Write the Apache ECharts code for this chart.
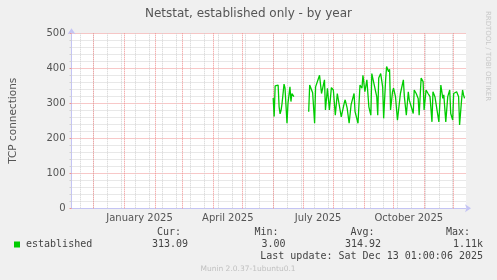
<!DOCTYPE html>
<html><head><meta charset="utf-8">
<script src="https://cdn.jsdelivr.net/npm/echarts@6/dist/echarts.min.js"></script>
<style>html,body{margin:0;padding:0;background:#f0f0f0}#c{width:497px;height:280px}</style>
</head><body><div id="c"></div>
<script>
const titleText = 'Netstat, established only - by year';
const yAxisName = 'TCP connections';
const seriesName = 'established';
const xStart = '2024-11-08T12:00:00';
const xEnd = '2025-12-13T12:00:00';
const xTickDates = ['2025-01-16T12:00:00', '2025-04-16T00:00:00', '2025-07-16T12:00:00', '2025-10-16T12:00:00'];
const xTickLabels = ['January 2025', 'April 2025', 'July 2025', 'October 2025'];
const monthStarts = ['2024-12-01','2025-01-01','2025-02-01','2025-03-01','2025-04-01','2025-05-01','2025-06-01','2025-07-01','2025-08-01','2025-09-01','2025-10-01','2025-11-01','2025-12-01'];
const minorGridStart = '2024-11-17';
const minorGridCount = 28;
const yTicks = [0, 100, 200, 300, 400, 500];

const dates = [
'2025-06-01','2025-06-02','2025-06-03','2025-06-04','2025-06-06','2025-06-07','2025-06-08','2025-06-09','2025-06-10','2025-06-12',
'2025-06-13','2025-06-15','2025-06-16','2025-06-18','2025-06-19','2025-06-20','2025-06-22','2025-06-23',
'2025-07-07','2025-07-08','2025-07-09','2025-07-11','2025-07-13','2025-07-14','2025-07-16','2025-07-18','2025-07-20','2025-07-23',
'2025-07-24','2025-07-26','2025-07-28','2025-07-30','2025-08-01','2025-08-03','2025-08-05','2025-08-07','2025-08-09','2025-08-12',
'2025-08-13','2025-08-15','2025-08-17','2025-08-19','2025-08-22','2025-08-23','2025-08-26','2025-08-28','2025-08-30','2025-08-31',
'2025-09-02','2025-09-04','2025-09-06','2025-09-08','2025-09-09','2025-09-10','2025-09-14','2025-09-15','2025-09-16','2025-09-18',
'2025-09-20','2025-09-21','2025-09-23','2025-09-24','2025-09-26','2025-09-27','2025-09-28','2025-09-30','2025-10-01','2025-10-03',
'2025-10-05','2025-10-06','2025-10-08','2025-10-11','2025-10-12','2025-10-14','2025-10-16','2025-10-17','2025-10-19','2025-10-21',
'2025-10-22','2025-10-24','2025-10-26','2025-10-27','2025-10-29','2025-10-31','2025-11-01','2025-11-03','2025-11-05','2025-11-07',
'2025-11-09','2025-11-10','2025-11-12','2025-11-14','2025-11-16','2025-11-18','2025-11-20','2025-11-21','2025-11-23','2025-11-25',
'2025-11-27','2025-11-28','2025-11-30','2025-12-01','2025-12-04','2025-12-06','2025-12-07','2025-12-09','2025-12-10','2025-12-11',
'2025-12-12'];
const values = [
315,262,350,355,352,290,270,280,300,355,
343,243,300,347,305,328,319,null,
276,352,355,330,243,347,350,380,328,367,
281,343,281,345,338,266,328,333,261,300,
310,286,243,296,328,276,243,352,343,380,
333,367,290,266,385,385,319,266,372,385,
347,257,367,405,390,397,281,333,343,319,
252,247,328,367,319,266,333,309,290,271,
338,328,314,266,372,362,281,338,328,319,
247,333,319,314,247,352,314,324,247,319,
338,271,252,328,333,319,238,309,338,324,
314];

const statHeaders = ['Cur:', 'Min:', 'Avg:', 'Max:'];
const statValues = ['313.09', '3.00', '314.92', '1.11k'];
const lastUpdate = 'Last update: Sat Dec 13 01:00:06 2025';
const footerText = 'Munin 2.0.37-1ubuntu0.1';
const sideText = 'RRDTOOL / TOBI OETIKER';

const chart = echarts.init(document.getElementById('c'), null, {renderer: 'canvas'});
const DAY = 86400000;
const toT = s => +echarts.time.parse(s.length === 10 ? s + 'T00:00:00' : s);
const minorStartT = toT(minorGridStart);
const minorLines = [];
for (let i = 0; i < minorGridCount; i++) minorLines.push(minorStartT + i * 14 * DAY);
const xTickTimes = xTickDates.map(toT);

const axisBlue = '#c4c4f4';
const redGrid = '#f09090';
const greyGrid = '#d0d0d0';
const sans = 'DejaVu Sans';
const mono = 'DejaVu Sans Mono';

const headerX = [181, 278.5, 374.5, 470];
const valueX = [188, 285.5, 381, 483];

const graphics = [];
statHeaders.forEach((t, i) => graphics.push({type:'text', x: headerX[i], y: 232.5, silent:true,
  style:{text:t, font:'10px "' + mono + '"', fill:'#444', align:'right', verticalAlign:'middle'}}));
statValues.forEach((t, i) => graphics.push({type:'text', x: valueX[i], y: 244.5, silent:true,
  style:{text:t, font:'10px "' + mono + '"', fill:'#444', align:'right', verticalAlign:'middle'}}));
graphics.push({type:'text', x: 483, y: 256.8, silent:true,
  style:{text:lastUpdate, font:'10px "' + mono + '"', fill:'#444', align:'right', verticalAlign:'middle'}});
graphics.push({type:'text', x: 248, y: 268.8, silent:true,
  style:{text:footerText, font:'7.5px "' + sans + '"', fill:'#c0c0c0', align:'center', verticalAlign:'middle'}});
graphics.push({type:'text', x: 487.5, y: 56, rotation: -Math.PI/2, silent:true,
  style:{text:sideText, font:'7px "' + sans + '"', fill:'#c8c8c8', align:'center', verticalAlign:'middle'}});

chart.setOption({
  animation: false,
  backgroundColor: '#f0f0f0',
  title: {text: titleText, left: 'center', top: 8, padding: 0,
    textStyle: {fontFamily: sans, fontSize: 12, fontWeight: 'normal', color: '#555'}},
  legend: {data: [seriesName], left: 14, top: 239.5, padding: 0, itemWidth: 6, itemHeight: 6, icon: 'rect',
    textStyle: {fontFamily: mono, fontSize: 10, color: '#444', padding: [0, 0, 0, 1]}},
  grid: {left: 66, right: 31, top: 33.3, bottom: 71.7, show: true, backgroundColor: '#ffffff', borderWidth: 0},
  xAxis: {type: 'value', min: toT(xStart), max: toT(xEnd), scale: true,
    splitLine: {show: false}, axisTick: {show: false},
    axisLine: {show: true, lineStyle: {color: axisBlue, width: 1}, symbol: ['none', 'arrow'], symbolSize: [6, 6], symbolOffset: [0, 5]},
    axisLabel: {customValues: xTickTimes, color: '#555', fontFamily: sans, fontSize: 10, margin: 5,
      formatter: function (v) { let best = 0; xTickTimes.forEach((t, i) => { if (Math.abs(t - v) < Math.abs(xTickTimes[best] - v)) best = i; }); return xTickLabels[best]; }}},
  yAxis: {type: 'value', min: yTicks[0], max: yTicks[yTicks.length - 1], interval: yTicks[1] - yTicks[0],
    name: yAxisName, nameLocation: 'middle', nameGap: 52.5, nameRotate: 90,
    nameTextStyle: {fontFamily: sans, fontSize: 10.5, color: '#555'},
    axisLine: {show: true, lineStyle: {color: axisBlue, width: 1}, symbol: ['none', 'arrow'], symbolSize: [6, 6], symbolOffset: [0, 5]},
    axisTick: {show: true, length: 2, lineStyle: {color: redGrid}},
    minorTick: {show: true, splitNumber: 5, length: 2, lineStyle: {color: greyGrid}},
    splitLine: {show: true, lineStyle: {color: redGrid, type: [1, 1], width: 1}},
    minorSplitLine: {show: true, lineStyle: {color: greyGrid, type: [1, 1], width: 1}},
    axisLabel: {color: '#555', fontFamily: sans, fontSize: 10, margin: 6, formatter: v => String(v)}},
  graphic: graphics,
  series: [
    {type: 'line', data: [], silent: true, z: 1,
      markLine: {silent: true, symbol: ['none', 'none'], label: {show: false}, animation: false,
        lineStyle: {color: greyGrid, type: [1, 1], width: 1}, emphasis: {disabled: true},
        data: minorLines.map(t => ({xAxis: t}))}},
    {type: 'line', data: [], silent: true, z: 2,
      markLine: {silent: true, symbol: ['none', 'none'], label: {show: false}, animation: false,
        lineStyle: {color: redGrid, type: [1, 1], width: 1}, emphasis: {disabled: true},
        data: monthStarts.map(d => ({xAxis: toT(d)}))}},
    {type: 'line', name: seriesName, z: 5, showSymbol: false, connectNulls: false,
      data: dates.map((d, i) => [toT(d), values[i] == null ? '-' : values[i]]),
      lineStyle: {color: '#00cc00', width: 1.3}, itemStyle: {color: '#00cc00'}}
  ]
});
</script></body></html>
